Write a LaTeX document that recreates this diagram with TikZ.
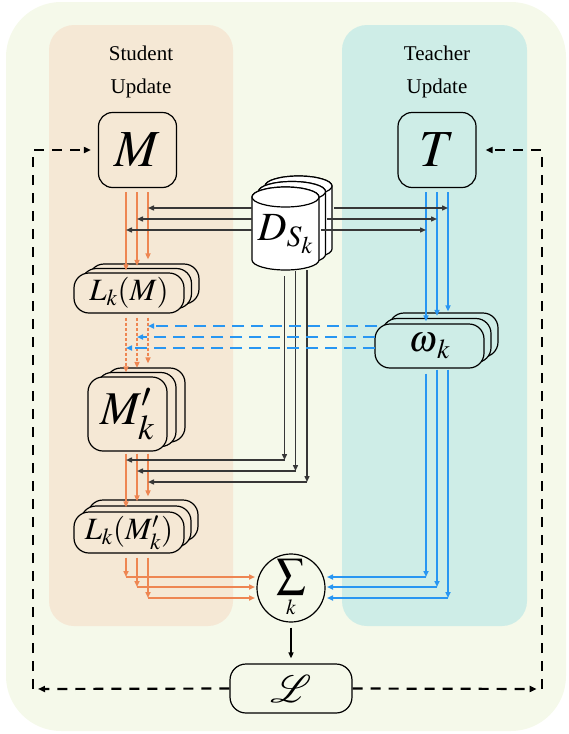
\documentclass[tikz,border=0pt]{standalone}
\usepackage{mathptmx}
\usepackage{mathrsfs}
\usepackage{fontspec}
\setmainfont{Liberation Serif}
\usetikzlibrary{arrows.meta,calc}
\definecolor{bgc}{RGB}{245,249,234}
\definecolor{sbg}{RGB}{245,232,213}
\definecolor{tbg}{RGB}{206,237,231}
\definecolor{orc}{RGB}{238,134,82}
\definecolor{blc}{RGB}{40,150,242}
\definecolor{dkc}{RGB}{55,55,55}
\newcommand\cylcopy[2]{%
  \begin{scope}[shift={(#1,#2)}]
    \filldraw[cylline] (252,197) -- (252,260)
      arc[start angle=180,end angle=360,x radius=33.5pt,y radius=10pt]
      -- (319,197)
      arc[start angle=0,end angle=180,x radius=33.5pt,y radius=10pt] -- cycle;
    \draw[cylline] (285.5,197) ellipse[x radius=33.5pt,y radius=10pt];
  \end{scope}}
\begin{document}
\begin{tikzpicture}[x=1pt,y=-1pt,
  nbox/.style={draw=black,line width=1.2pt,inner sep=0pt},
  mbox/.style={nbox,fill=sbg,rounded corners=14pt,minimum width=78pt,minimum height=75pt,font=\fontsize{52}{52}\selectfont},
  tbox/.style={nbox,fill=tbg,rounded corners=14pt,minimum width=78pt,minimum height=75pt,font=\fontsize{52}{52}\selectfont},
  lbox/.style={nbox,fill=sbg,rounded corners=15pt,minimum width=110pt,minimum height=40pt,font=\fontsize{31}{31}\selectfont},
  llbox/.style={nbox,fill=sbg,rounded corners=15pt,minimum width=110pt,minimum height=41pt,font=\fontsize{31}{31}\selectfont},
  mpbox/.style={nbox,fill=sbg,rounded corners=15pt,minimum width=79pt,minimum height=74pt,font=\fontsize{47}{47}\selectfont},
  wbox/.style={nbox,fill=tbg,rounded corners=15pt,minimum width=109pt,minimum height=44pt,font=\fontsize{37}{37}\selectfont},
  cylline/.style={draw=black,line width=1.2pt,fill=white},
  tip/.style={-{Triangle[length=6pt,width=5pt]}},
  oarr/.style={draw=orc,line width=1.6pt,tip},
  odash/.style={oarr,dash pattern=on 3pt off 2pt},
  barr/.style={draw=blc,line width=1.6pt,tip},
  bdash/.style={barr,dash pattern=on 12pt off 7pt},
  karr/.style={draw=dkc,line width=1.4pt,tip},
  dashloop/.style={draw=black,line width=2.2pt,dash pattern=on 10pt off 8pt,-{Triangle[length=7pt,width=6pt]}},
  label/.style={font=\fontsize{21}{25}\selectfont}
]
\useasboundingbox (0,0) rectangle (568,734);
% backgrounds
\fill[bgc,rounded corners=55pt] (6,2) rectangle (566,731);
\fill[sbg,rounded corners=25pt] (49,25) rectangle (233,626);
\fill[tbg,rounded corners=25pt] (342,25) rectangle (527,626);
% titles
\node[label] (st1) at (141,53) {Student};
\node[label] (st2) at (141,88) {Update};
\node[label] (tt1) at (437,53) {Teacher};
\node[label] (tt2) at (437,88) {Update};
% column coordinates
\coordinate (xa) at (126,0);
\coordinate (xb) at (137,0);
\coordinate (xc) at (148,0);
\coordinate (ya) at (426,0);
\coordinate (yb) at (437,0);
\coordinate (yc) at (448,0);
% main nodes
\node[mbox] (M) at (137.5,150) {$M$};
\node[tbox] (T) at (437,150) {$T$};
\node[lbox] (LM1) at (144,284) {};
\node[lbox] (LM2) at (136.5,288.5) {};
\node[lbox] (LM) at (129,293) {$L_k(M)$};
\node[mpbox] (MP1) at (145.5,405) {};
\node[mpbox] (MP2) at (136.5,409.5) {};
\node[mpbox] (MP) at (127.5,414) {$M'_k$};
\node[llbox] (LP1) at (143,520.5) {};
\node[llbox] (LP2) at (136,526.5) {};
\node[llbox] (LP) at (129,532.5) {$L_k(M'_k)$};
\node[wbox] (W1) at (443.5,335) {};
\node[wbox] (W2) at (436.5,340.5) {};
\node[wbox] (W) at (429.5,346) {$\omega_{\,k}$};
% cylinder stack
\cylcopy{13}{-11}
\cylcopy{6.5}{-5.5}
\cylcopy{0}{0}
\node[font=\fontsize{40}{40}\selectfont] (D) at (285.5,234) {$D_{S_k}$};
\node[circle,draw=black,line width=1.2pt,minimum size=68pt,inner sep=0pt] (S) at (291,588)
  {\fontsize{29}{29}\selectfont$\displaystyle\sum_k$};
\node[nbox,rounded corners=16pt,minimum width=122pt,minimum height=49pt] (L) at (291,688.5)
  {\scalebox{1.55}{\fontsize{44}{44}\selectfont$\mathscr{L}$}};
% orange: M -> L_k(M)
\draw[oarr,shorten >=2pt] ($(xa|-M.south)+(0,4)$) -- (xa|-LM.north);
\draw[oarr,shorten >=2pt] ($(xb|-M.south)+(0,4)$) -- (xb|-LM2.north);
\draw[oarr,shorten >=4pt] ($(xc|-M.south)+(0,4)$) -- (xc|-LM1.north);
% orange dashed: L_k(M) -> M'_k
\draw[odash,shorten >=4pt] ($(xa|-LM.south)+(0,4)$) -- (xa|-MP.north);
\draw[odash,shorten >=4pt] ($(xb|-LM.south)+(0,4)$) -- (xb|-MP2.north);
\draw[odash,shorten >=4pt] ($(xc|-LM.south)+(0,4)$) -- (xc|-MP1.north);
% orange: M'_k -> L_k(M'_k)
\draw[oarr,shorten >=4pt] ($(xa|-MP.south)+(0,2)$) -- (xa|-LP.north);
\draw[oarr,shorten >=4pt] ($(xb|-MP.south)+(0,2)$) -- (xb|-LP2.north);
\draw[oarr,shorten >=3pt] ($(xc|-MP.south)+(0,2)$) -- (xc|-LP1.north);
% orange: L_k(M'_k) -> Sigma
\coordinate (OC1) at (126,577);
\coordinate (OC2) at (137,587);
\coordinate (OC3) at (148,598);
\draw[oarr] ($(xa|-LP.south)+(0,4)$) -- (OC1);
\draw[oarr] ($(xb|-LP.south)+(0,4)$) -- (OC2);
\draw[oarr] ($(xc|-LP.south)+(0,4)$) -- (OC3);
\draw[oarr] (OC1) -- ($(S.center)+(-36,-11)$);
\draw[oarr] (OC2) -- ($(S.center)+(-36,-1)$);
\draw[oarr] (OC3) -- ($(S.center)+(-36,10)$);
% blue: T -> omega
\draw[barr,shorten >=2pt] ($(ya|-T.south)+(0,4)$) -- (ya|-W.north);
\draw[barr,shorten >=2pt] ($(yb|-T.south)+(0,4)$) -- (yb|-W2.north);
\draw[barr,shorten >=1pt] ($(yc|-T.south)+(0,4)$) -- (yc|-W1.north);
% blue: omega -> Sigma
\coordinate (WC1) at (426,577);
\coordinate (WC2) at (437,587);
\coordinate (WC3) at (448,598);
\draw[barr] ($(ya|-W.south)+(0,5)$) -- (WC1);
\draw[barr] ($(yb|-W.south)+(0,1)$) -- (WC2);
\draw[barr] ($(yc|-W.south)+(0,1)$) -- (WC3);
\draw[barr] (WC1) -- ($(S.center)+(36,-11)$);
\draw[barr] (WC2) -- ($(S.center)+(36,-1)$);
\draw[barr] (WC3) -- ($(S.center)+(36,10)$);
% black: D -> student / teacher
\coordinate (DL1) at (252,208);
\coordinate (DL2) at (252,219);
\coordinate (DL3) at (252,230);
\coordinate (DR1) at (334,208);
\coordinate (DR2) at (327,219);
\coordinate (DR3) at (321,230);
\draw[karr] (DL1) -- (xc|-DL1);
\draw[karr] (DL2) -- (xb|-DL2);
\draw[karr] (DL3) -- (xa|-DL3);
\draw[karr] (DR1) -- (yc|-DR1);
\draw[karr] (DR2) -- (yb|-DR2);
\draw[karr] (DR3) -- (ya|-DR3);
% black: D down -> M'_k outputs
\coordinate (DB1) at (284.5,276);
\coordinate (DB2) at (295.5,271);
\coordinate (DB3) at (307,270);
\coordinate (DC1) at (284.5,460);
\coordinate (DC2) at (295.5,471);
\coordinate (DC3) at (307,482);
\draw[karr] (DB1) -- (DC1);
\draw[karr] (DB2) -- (DC2);
\draw[karr] (DB3) -- (DC3);
\draw[karr] (DC1) -- (xa|-DC1);
\draw[karr] (DC2) -- (xb|-DC2);
\draw[karr] (DC3) -- (xc|-DC3);
% blue dashed: omega -> student
\coordinate (WL1) at (377,326);
\coordinate (WL2) at (375,337);
\coordinate (WL3) at (375,348);
\draw[bdash] (WL1) -- (xc|-WL1);
\draw[bdash] (WL2) -- (xb|-WL2);
\draw[bdash] (WL3) -- (xa|-WL3);
% Sigma -> L
\draw[draw=black,line width=1.4pt,tip,shorten >=5pt] ($(S.south)+(0,5)$) -- (L.north);
% dashed feedback loop
\coordinate (BL) at (33,689);
\coordinate (BR) at (541.7,689);
\draw[dashloop,shorten >=5pt] (L.west) -- (BL);
\draw[dashloop,shorten >=7pt] (BL) |- (M.west);
\draw[dashloop,shorten >=5pt] (L.east) -- (BR);
\draw[dashloop,shorten >=9pt] (BR) |- (T.east);
\end{tikzpicture}
\end{document}
